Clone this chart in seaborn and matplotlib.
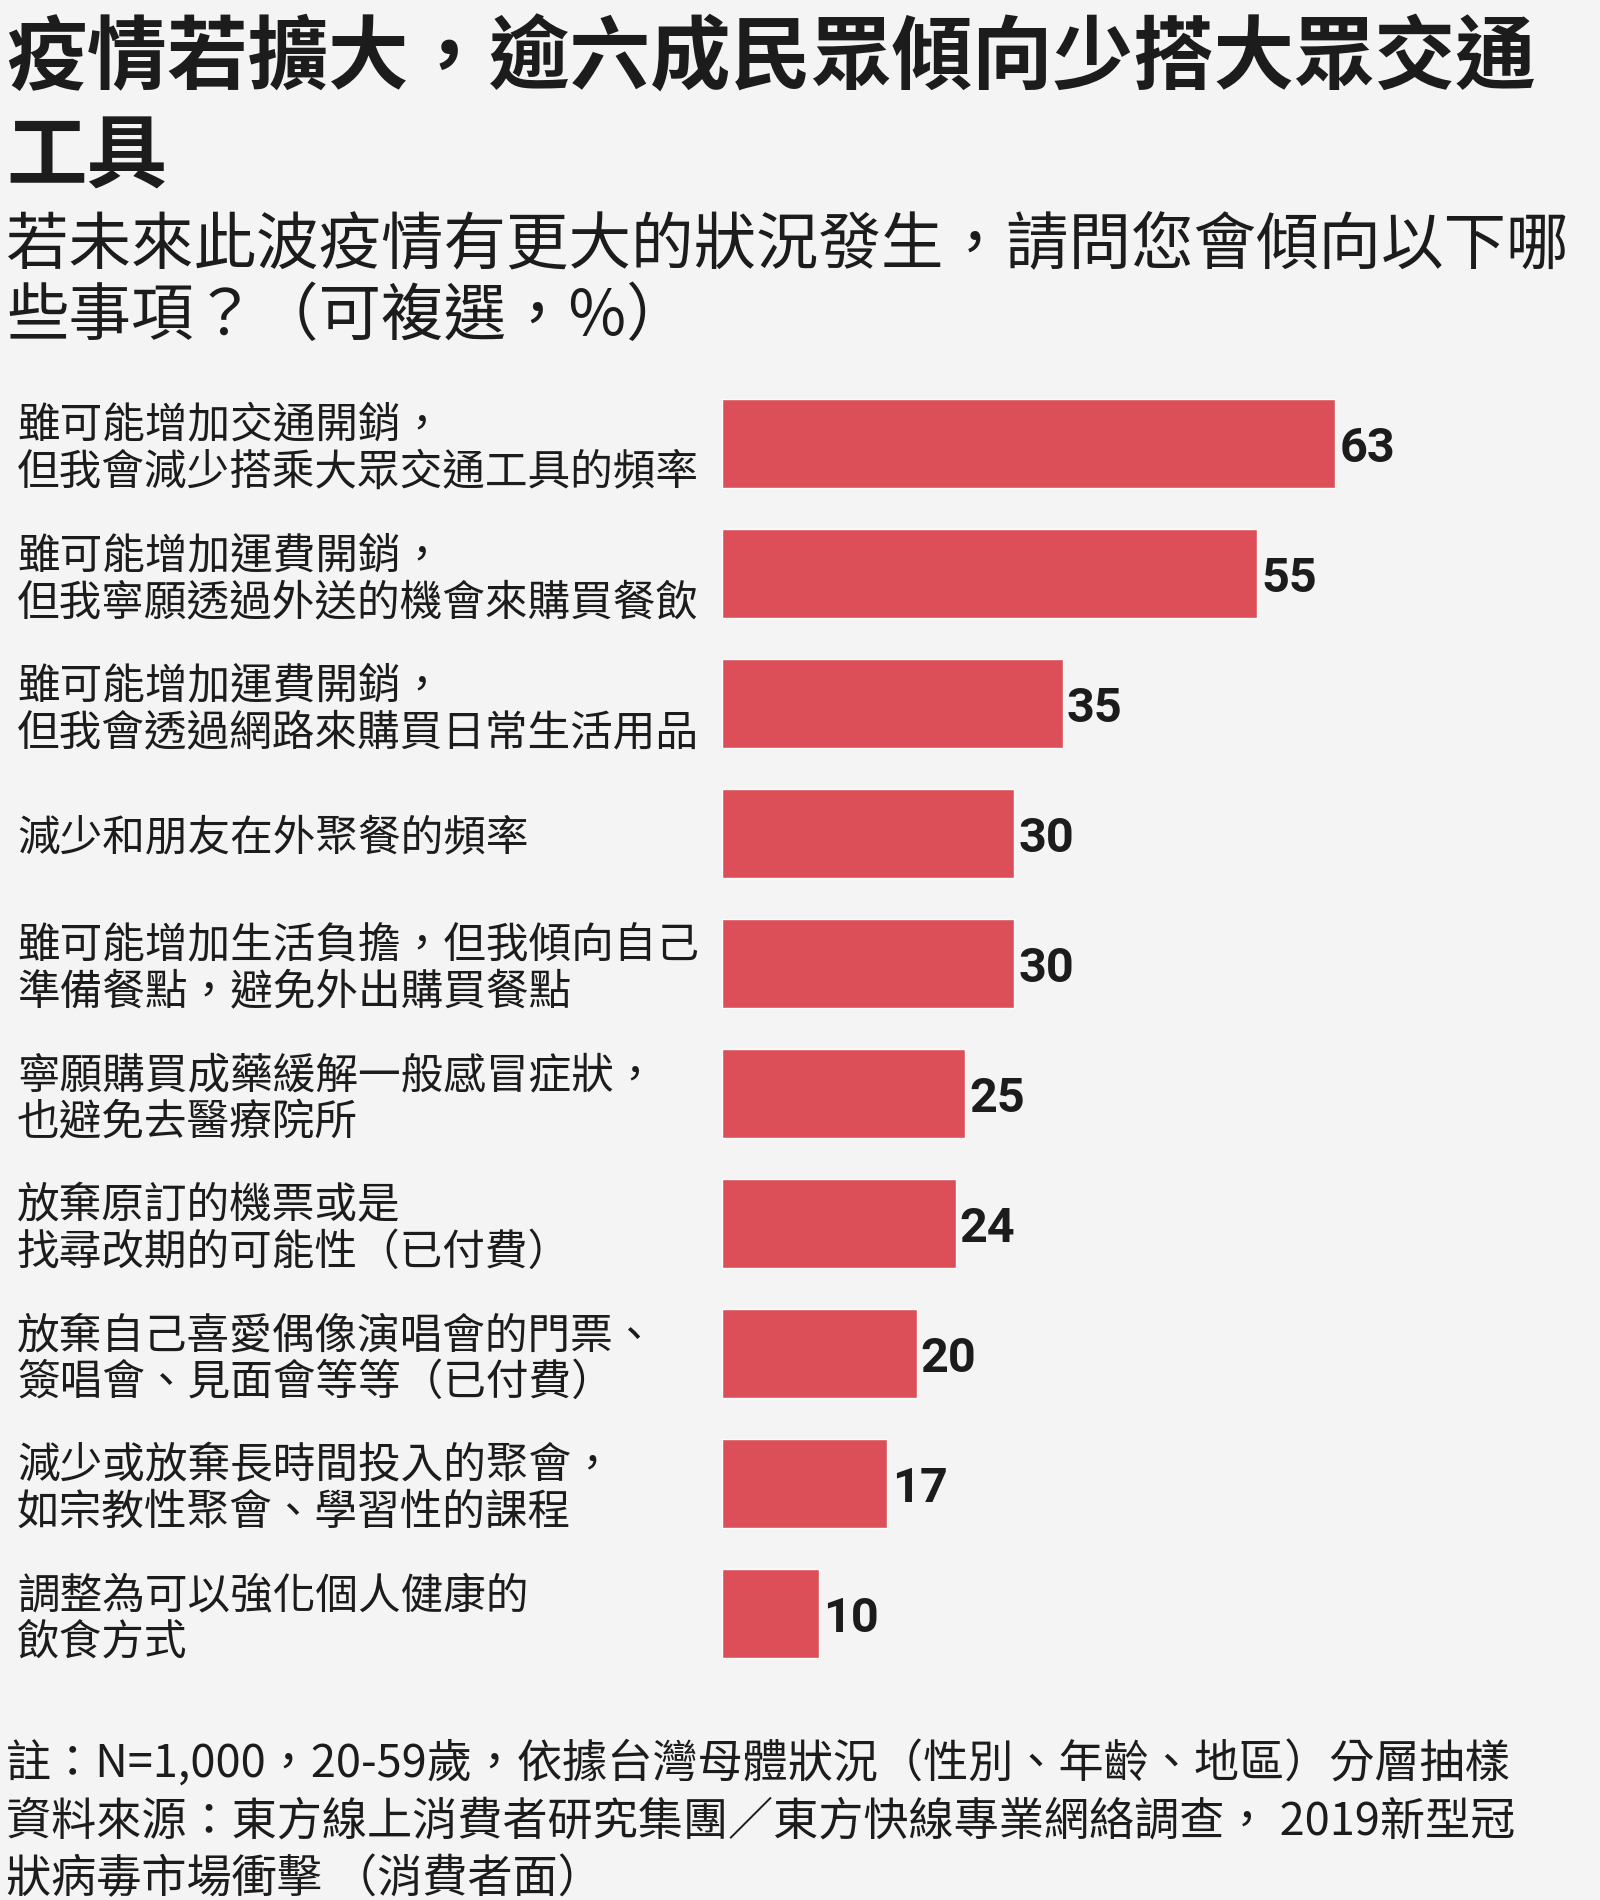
import matplotlib
matplotlib.use("Agg")
import matplotlib.pyplot as plt
import seaborn as sns

# 1. Data
categories = [
    "雖可能增加交通開銷，\n但我會減少搭乘大眾交通工具的頻率",
    "雖可能增加運費開銷，\n但我寧願透過外送的機會來購買餐飲",
    "雖可能增加運費開銷，\n但我會透過網路來購買日常生活用品",
    "減少和朋友在外聚餐的頻率",
    "雖可能增加生活負擔，但我傾向自己\n準備餐點，避免外出購買餐點",
    "寧願購買成藥緩解一般感冒症狀，\n也避免去醫療院所",
    "放棄原訂的機票或是\n找尋改期的可能性（已付費）",
    "放棄自己喜愛偶像演唱會的門票、\n簽唱會、見面會等等（已付費）",
    "減少或放棄長時間投入的聚會，\n如宗教性聚會、學習性的課程",
    "調整為可以強化個人健康的\n飲食方式",
]
values = [63, 55, 35, 30, 30, 25, 24, 20, 17, 10]

title_lines = ["疫情若擴大，逾六成民眾傾向少搭大眾交通", "工具"]
subtitle_lines = ["若未來此波疫情有更大的狀況發生，請問您會傾向以下哪", "些事項？（可複選，%）"]
footer_lines = [
    "註：N=1,000，20-59歲，依據台灣母體狀況（性別、年齡、地區）分層抽樣",
    "資料來源：東方線上消費者研究集團／東方快線專業網絡調查， 2019新型冠",
    "狀病毒市場衝擊 （消費者面）",
]

BG = "#f4f4f4"
BAR = "#dd4f58"
INK = "#1c1c1c"

sns.set_theme(style="white")
plt.rcParams["font.family"] = ["Noto Sans CJK TC", "DejaVu Sans"]

W, H = 1600, 1900
fig = plt.figure(figsize=(W / 100, H / 100), dpi=100, facecolor=BG)

# axes placed in pixel terms
left_px, top_px, bottom_px = 722, 378.5, 1678.5
ax = fig.add_axes([left_px / W, 1 - bottom_px / H, 1 - left_px / W, (bottom_px - top_px) / H])
ax.set_facecolor(BG)

# 2. Bars
sns.barplot(x=values, y=categories, orient="h", color=BAR, saturation=1,
            width=0.69, ax=ax)
ax.set_xlim(0, (W - left_px) / 9.73)
ax.set_ylim(len(values) - 0.5, -0.5)
sns.despine(ax=ax, left=True, bottom=True)
ax.set_xticks([])
ax.set_xlabel("")
ax.set_ylabel("")

# category labels as y tick labels, left aligned at the figure edge
ax.tick_params(axis="y", length=0, pad=(left_px - 17) * 72 / 100)
for lab in ax.get_yticklabels():
    lab.set_ha("left")
    lab.set_fontsize(30.7)
    lab.set_color(INK)
    lab.set_linespacing(1.07)

# value labels
texts = ax.bar_label(ax.containers[0], labels=[str(v) for v in values], padding=3,
                     fontsize=35, fontweight="bold", color=INK,
                     family=["Roboto", "DejaVu Sans"])
for t in texts:
    t.set_va("center_baseline")

# 3. Titles and notes
def put(y_px, text, size, weight):
    fig.text(6 / W, 1 - y_px / H, text, fontsize=size, fontweight=weight,
             color=INK, va="baseline", ha="left")

put(84, title_lines[0], 58, "heavy")
put(182, title_lines[1], 58, "heavy")
put(263, subtitle_lines[0], 45, "light")
put(335, subtitle_lines[1], 45, "light")
for i, line in enumerate(footer_lines):
    put(1778 + 57 * i, line, 32.5, "light")

fig.savefig("out.png", dpi=100, facecolor=BG)
